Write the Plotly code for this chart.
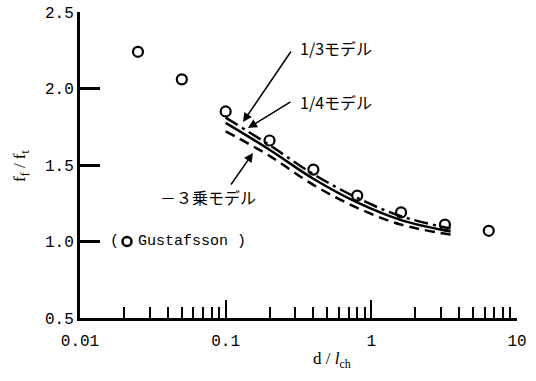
import plotly.graph_objects as go

# Experimental points (Gustafsson)
exp_x = [0.025, 0.05, 0.1, 0.2, 0.4, 0.8, 1.6, 3.2, 6.4]
exp_y = [2.24, 2.06, 1.85, 1.66, 1.47, 1.30, 1.19, 1.11, 1.07]

# Model curves
curve_x = [0.1, 0.2, 0.4, 0.8, 1.6, 3.5]
m13_y = [1.81, 1.63, 1.44, 1.285, 1.165, 1.085]   # 1/3モデル (dash-dot)
m14_y = [1.775, 1.60, 1.41, 1.255, 1.14, 1.065]   # 1/4モデル (solid)
m3_y = [1.72, 1.56, 1.37, 1.22, 1.11, 1.045]      # -3乗モデル (dashed)

x_major = [0.01, 0.1, 1, 10]
x_major_text = ["0.01", "0.1", "1", "10"]
x_minor = [m * d for d in [0.01, 0.1, 1] for m in range(2, 10)]

mono = "Liberation Mono"
jp = "Noto Sans CJK JP"

fig = go.Figure()
fig.add_trace(go.Scatter(x=curve_x, y=m13_y, mode="lines", line_shape="spline",
                         line=dict(color="black", width=2.5, dash="14px,5px,3px,5px")))
fig.add_trace(go.Scatter(x=curve_x, y=m14_y, mode="lines", line_shape="spline",
                         line=dict(color="black", width=2.5)))
fig.add_trace(go.Scatter(x=curve_x, y=m3_y, mode="lines", line_shape="spline",
                         line=dict(color="black", width=2.5, dash="10px,6px")))
fig.add_trace(go.Scatter(x=exp_x, y=exp_y, mode="markers",
                         marker=dict(symbol="circle-open", size=10, color="black",
                                     line=dict(width=2.2)), cliponaxis=False))

L, R, T, B = 80, 517, 12, 318
W, H = R - L, B - T

def px2x(px):
    return -2 + (px - L) / (W / 3.0)

def px2y(py):
    return 2.5 - (py - T) / (H / 2.0)

anns = []
anns.append(dict(x=px2x(298), y=px2y(48), text="1/3モデル", showarrow=False, xanchor="left",
                 font=dict(family=jp, size=16, color="black")))
anns.append(dict(x=px2x(298), y=px2y(102), text="1/4モデル", showarrow=False, xanchor="left",
                 font=dict(family=jp, size=16, color="black")))
anns.append(dict(x=px2x(158), y=px2y(197), text="－３乗モデル", showarrow=False, xanchor="left",
                 font=dict(family=jp, size=16, color="black")))
# Gustafsson legend
anns.append(dict(x=px2x(108), y=1.0, text="(", showarrow=False, xanchor="left",
                 font=dict(family=mono, size=15, color="black")))
anns.append(dict(x=px2x(136), y=1.0, text="Gustafsson )", showarrow=False, xanchor="left",
                 font=dict(family=mono, size=15, color="black")))
for tip, tail in [((243, 122), (292, 50)), ((248, 128), (292, 101)), ((253, 153), (230, 186))]:
    anns.append(dict(x=px2x(tip[0]), y=px2y(tip[1]), ax=tail[0] - tip[0], ay=tail[1] - tip[1],
                     text="", showarrow=True, arrowhead=2, arrowsize=1.2, arrowwidth=1.5,
                     arrowcolor="black"))
anns.append(dict(xref="paper", yref="paper", x=(332 - L) / W, y=-(360 - B) / H,
                 xanchor="center", yanchor="middle",
                 text="d / <i>l</i><sub>ch</sub>", showarrow=False,
                 font=dict(family="Liberation Serif", size=17, color="black")))
anns.append(dict(xref="paper", yref="paper", x=-(L - 21) / W, y=(B - 165) / H,
                 xanchor="center", yanchor="middle",
                 text="f<sub>f</sub> / f<sub>t</sub>", showarrow=False, textangle=-90,
                 font=dict(family="Liberation Serif", size=17, color="black")))

shapes = [dict(type="circle", xref="paper", yref="y", xsizemode="pixel", ysizemode="pixel",
               xanchor=(127 - L) / W, yanchor=1.0, x0=-4.5, x1=4.5, y0=-4.5, y1=4.5,
               line=dict(color="black", width=2.5))]

fig.update_layout(
    width=536, height=381,
    margin=dict(l=L, r=536 - R, t=T, b=381 - B),
    paper_bgcolor="white", plot_bgcolor="white",
    showlegend=False,
    annotations=anns,
    shapes=shapes,
    xaxis=dict(type="log", range=[-2, 1], showgrid=False, zeroline=False, automargin=False,
               showline=True, linecolor="black", linewidth=3,
               tickmode="array", tickvals=x_major, ticktext=x_major_text,
               ticks="inside", ticklen=18, tickwidth=2, tickcolor="black",
               ticklabelstandoff=6,
               tickfont=dict(family=mono, size=16, color="black"),
               minor=dict(tickmode="array", tickvals=x_minor, ticks="inside",
                          ticklen=11, tickwidth=2, tickcolor="black", showgrid=False)),
    yaxis=dict(range=[0.5, 2.5], showgrid=False, zeroline=False, automargin=False,
               showline=True, linecolor="black", linewidth=3,
               tickmode="linear", tick0=0.5, dtick=0.5, tickformat=".1f",
               ticks="inside", ticklen=20, tickwidth=3, tickcolor="black",
               tickfont=dict(family=mono, size=16, color="black")),
)

fig.write_html("out.html", config={"displayModeBar": False},
               post_script="document.body.style.margin='0';document.body.style.padding='0';")
